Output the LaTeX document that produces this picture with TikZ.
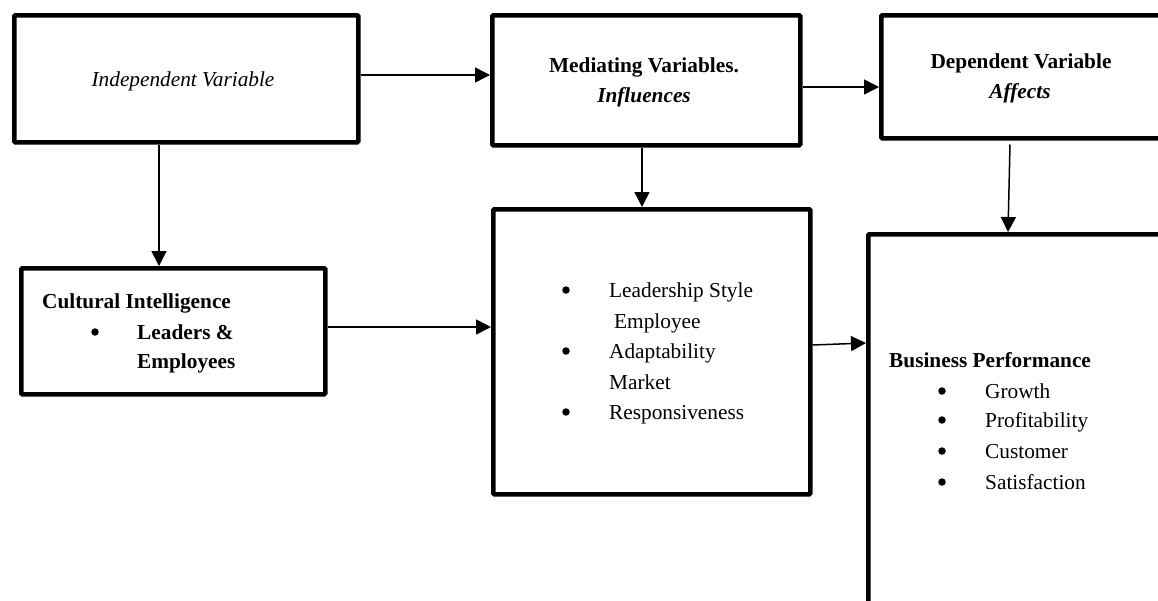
\documentclass[tikz,border=0pt]{standalone}
\usepackage{fontspec}
\setmainfont{Liberation Serif}
\usetikzlibrary{arrows.meta}
\begin{document}
\begin{tikzpicture}[x=1pt,y=-1pt,
  box/.style={draw, line width=4.5pt, rectangle, anchor=north west, inner sep=0pt, rounded corners=1pt},
  txt/.style={anchor=base west, inner sep=0pt, font=\fontsize{21.3}{31}\selectfont},
  ctxt/.style={anchor=base, inner sep=0pt, font=\fontsize{21.3}{31}\selectfont},
  dot/.style={circle, fill, inner sep=0pt, minimum size=7.5pt},
  conn/.style={line width=1.5pt, -{Triangle[length=15pt,width=15pt]}}]
\useasboundingbox (0,0) rectangle (1158,600);
\clip (0,0) rectangle (1158,600);
\fill[white] (0,0) rectangle (1158,600);
% boxes
\node[box, minimum width=344pt, minimum height=127pt] (A) at (12,13) {};
\node[box, minimum width=308pt, minimum height=130pt] (B) at (490,13) {};
\node[box, minimum width=330pt, minimum height=123pt] (C) at (879,13) {};
\node[box, minimum width=304pt, minimum height=126pt] (D) at (19,266) {};
\node[box, minimum width=317pt, minimum height=285pt] (F) at (491,207) {};
\node[box, minimum width=350pt, minimum height=420pt] (E) at (866,232) {};
% connectors
\draw[conn] (A.east |- 0,75) -- (B.west |- 0,75);
\draw[conn] (B.east |- 0,87) -- (C.west |- 0,87);
\draw[conn] (A.south -| 159,0) -- (D.north -| 159,0);
\draw[conn] (B.south -| 642,0) -- (F.north -| 642,0);
\draw[conn] ([yshift=-4pt]C.south -| 1010,0) -- (E.north -| 1008,0);
\draw[conn] (D.east |- 0,327) -- (F.west |- 0,327);
\draw[conn] (F.east |- 0,345) -- (E.west |- 0,343);
% texts
\node[ctxt] (tA) at (183,86) {\itshape Independent Variable};
\node[ctxt] (tB1) at (644,72) {\bfseries Mediating Variables.};
\node[ctxt] (tB2) at (644,102) {\bfseries\itshape Influences};
\node[ctxt] (tC1) at (1021,68) {\bfseries Dependent Variable};
\node[ctxt] (tC2) at (1020,98) {\bfseries\itshape Affects};
\node[txt] (tD1) at (42,308) {\bfseries Cultural Intelligence};
\node[dot] (bD1) at (95,332) {};
\node[txt] (tD2) at (137,339) {\bfseries Leaders \&};
\node[txt] (tD3) at (137,368) {\bfseries Employees};
\node[dot] (bF1) at (566,290) {};
\node[dot] (bF2) at (566,351) {};
\node[dot] (bF3) at (566,412) {};
\node[txt] (tF1) at (609,297) {Leadership Style};
\node[txt] (tF2) at (614,328) {Employee};
\node[txt] (tF3) at (609,358) {Adaptability};
\node[txt] (tF4) at (609,389) {Market};
\node[txt] (tF5) at (609,419) {Responsiveness};
\node[txt] (tE0) at (889,367) {\bfseries Business Performance};
\node[dot] (bE1) at (942,391) {};
\node[dot] (bE2) at (942,420) {};
\node[dot] (bE3) at (942,451) {};
\node[dot] (bE4) at (942,482) {};
\node[txt] (tE1) at (985,398) {Growth};
\node[txt] (tE2) at (985,427) {Profitability};
\node[txt] (tE3) at (985,458) {Customer};
\node[txt] (tE4) at (985,489) {Satisfaction};
\end{tikzpicture}
\end{document}
